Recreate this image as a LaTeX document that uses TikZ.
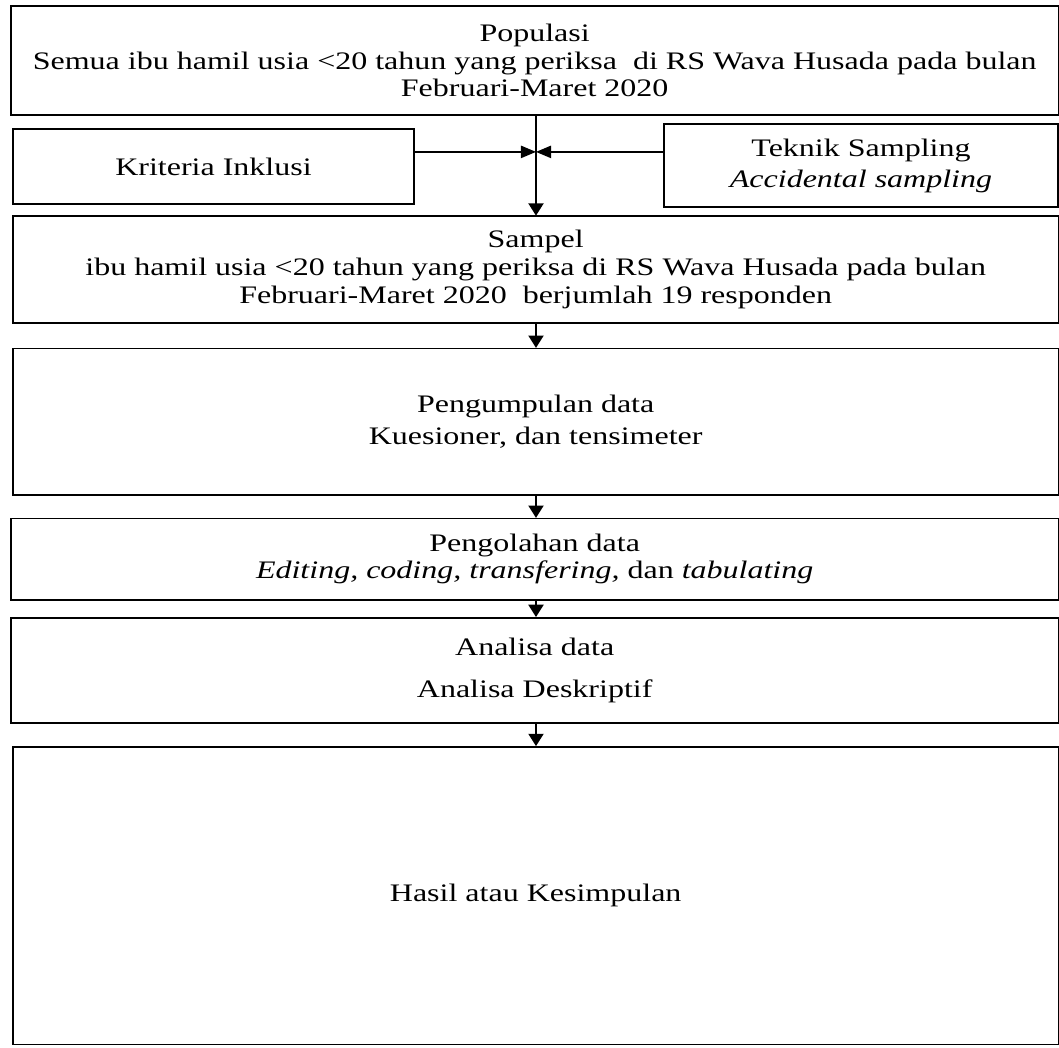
\documentclass[tikz,border=0pt]{standalone}
\usepackage{fontspec}
\setmainfont{Liberation Serif}
\usetikzlibrary{arrows.meta,positioning,calc}

\begin{document}
\begin{tikzpicture}[x=0.01cm, y=-0.01cm, yscale=0.787,
    stage/.style={rectangle, draw=black, line width=0.5pt, inner sep=0pt, align=center, anchor=north west, transform shape, font=\fontsize{9.1}{10}\selectfont},
    flow/.style={-{Triangle[length=3.5pt,width=4.3pt]}, line width=0.45pt, black},
    sideflow/.style={-{Triangle[length=4.3pt,width=3.5pt]}, line width=0.45pt, black}
]
\useasboundingbox (0,0) rectangle (1059,1331);

% --- top: population and the two side boxes ---
\node[stage, minimum width=10.47cm, minimum height=1.38cm] (Populasi) at (10,7)
    {Populasi\\Semua ibu hamil usia <20 tahun yang periksa\ \ di RS Wava Husada pada bulan\\Februari-Maret 2020};
\node[stage, minimum width=4.01cm, minimum height=0.95cm] (Kriteria) at (12,163) {Kriteria Inklusi};
\node[stage, minimum width=3.94cm, minimum height=1.05cm] (Teknik) at (663,157)
    {Teknik Sampling\\[1.1pt]\textit{Accidental sampling}};

% --- the chain below ---
\node[stage, minimum width=10.45cm, minimum height=1.35cm] (Sampel) at (12,274)
    {Sampel\\ibu hamil usia <20 tahun yang periksa di RS Wava Husada pada bulan\\Februari-Maret 2020\ \ berjumlah 19 responden};
\node[stage, minimum width=10.45cm, minimum height=1.86cm] (Pengumpulan) at (12,442)
    {Pengumpulan data\\[1.7pt]Kuesioner, dan tensimeter};
\node[stage, minimum width=10.47cm, minimum height=1.03cm] (Pengolahan) at (10,658)
    {Pengolahan data\\\textit{Editing, coding, transfering,} dan \textit{tabulating}};
\node[stage, minimum width=10.47cm, minimum height=1.34cm] (Analisa) at (10,784)
    {Analisa data\\[5.4pt]Analisa Deskriptif};
\node[stage, minimum width=10.45cm, minimum height=3.78cm] (Hasil) at (12,948) {Hasil atau Kesimpulan};

% Arrows
\coordinate (Join) at (536,193);
\draw[sideflow] (Kriteria.east |- Join) -- (Join);
\draw[sideflow] (Teknik.west |- Join) -- (Join);
\draw[flow] (Populasi.south -| Join) -- (Sampel.north -| Join);
\foreach \a/\b in {Sampel/Pengumpulan, Pengumpulan/Pengolahan, Pengolahan/Analisa, Analisa/Hasil} {
    \draw[flow] (\a.south -| Join) -- (\b.north -| Join);
}

\end{tikzpicture}
\end{document}
